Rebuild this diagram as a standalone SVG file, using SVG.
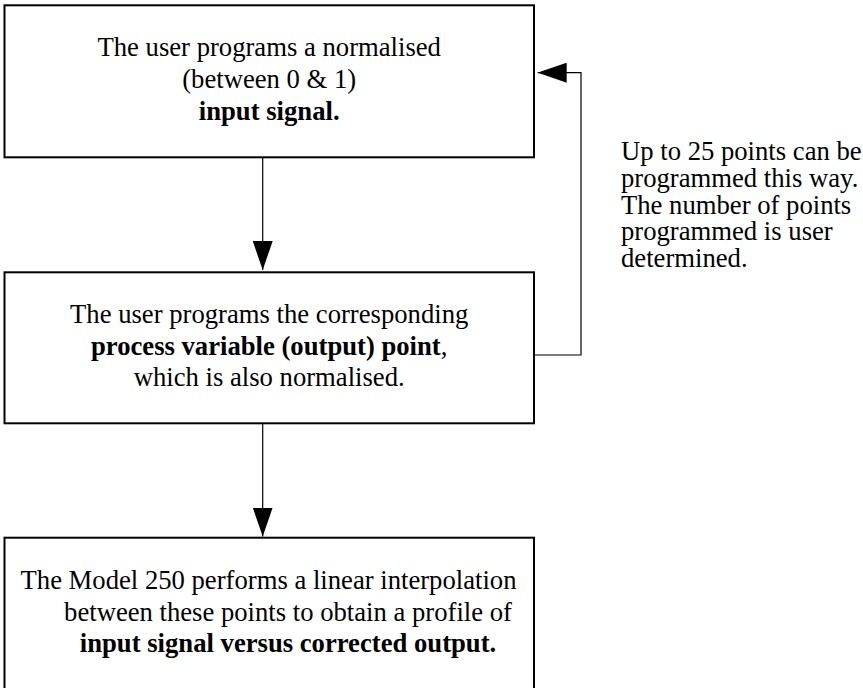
<svg xmlns="http://www.w3.org/2000/svg" width="863" height="688" viewBox="0 0 863 688">
  <defs>
    <marker id="arrow" markerUnits="userSpaceOnUse" markerWidth="29" markerHeight="20" viewBox="0 0 29 20" refX="29" refY="10" orient="auto">
      <path d="M0,0 L29,10 L0,20 Z" fill="#000"/>
    </marker>
    <style>
      .box { fill: #fff; stroke: #000; stroke-width: 2; }
      .conn { fill: none; stroke: #000; stroke-width: 1.2; }
      text { font-family: "Liberation Serif", "Times New Roman", serif; font-size: 26.67px; fill: #000; }
      .c { text-anchor: middle; }
      .b { font-weight: bold; }
    </style>
  </defs>
  <rect x="0" y="0" width="863" height="688" fill="#fff"/>

  <g id="connectors">
    <path class="conn" d="M262.7,157.3 V270" marker-end="url(#arrow)"/>
    <path class="conn" d="M262.7,423.3 V536.5" marker-end="url(#arrow)"/>
    <path class="conn" d="M535,355 H581 V72.7 H537.7" marker-end="url(#arrow)"/>
  </g>

  <g id="node-input">
    <rect class="box" x="4.5" y="5.3" width="529.5" height="152"/>
    <text class="c" x="269.2" y="56.3">The user programs a normalised</text>
    <text class="c" x="269.2" y="88.3">(between 0 &amp; 1)</text>
    <text class="c b" x="269.2" y="120">input signal.</text>
  </g>

  <g id="node-output">
    <rect class="box" x="4.5" y="272.3" width="529.5" height="151"/>
    <text class="c" x="269.2" y="323.3">The user programs the corresponding</text>
    <text class="c" x="269.2" y="354.8"><tspan class="b">process variable (output) point</tspan>,</text>
    <text class="c" x="269.2" y="386.3">which is also normalised.</text>
  </g>

  <g id="node-interp">
    <rect class="box" x="4.5" y="537.7" width="529.5" height="152"/>
    <text class="c" x="268.5" y="589">The Model 250 performs a linear interpolation</text>
    <text class="c" x="288" y="620.5">between these points to obtain a profile of</text>
    <text class="c b" x="288" y="652">input signal versus corrected output.</text>
  </g>

  <g id="note">
    <text x="621" y="160">Up to 25 points can be</text>
    <text x="621" y="186.8">programmed this way.</text>
    <text x="621" y="213.6">The number of points</text>
    <text x="621" y="240.4">programmed is user</text>
    <text x="621" y="267.2">determined.</text>
  </g>
</svg>
